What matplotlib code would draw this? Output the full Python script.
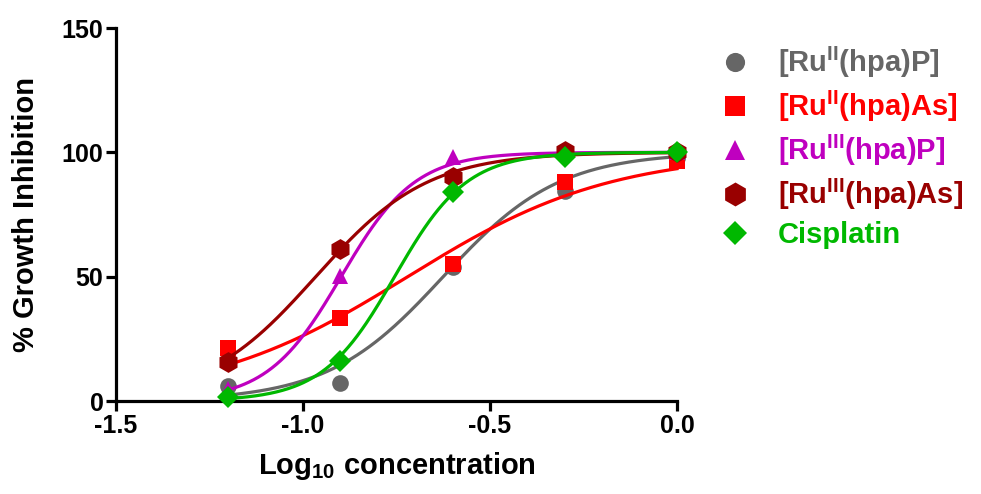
import matplotlib
matplotlib.use("Agg")
import matplotlib.pyplot as plt
import numpy as np

# log10 concentrations tested
log_conc = [-1.2, -0.9, -0.6, -0.3, 0.0]

# % growth inhibition
ru2_p = [6.0, 7.4, 53.7, 84.6, 97.6]
ru2_as = [21.5, 33.2, 55.0, 88.0, 96.6]
ru3_p = [4.7, 50.3, 98.0, 100.0, 100.0]
ru3_as = [15.7, 61.0, 90.0, 100.5, 100.0]
cisplatin = [1.7, 16.1, 84.2, 98.0, 100.3]

# sigmoidal fit parameters (log EC50, Hill slope) as estimated from the curves
fit_logec50 = [-0.625, -0.72, -0.898, -0.966, -0.755]
fit_hill = [2.8, 1.6, 4.4, 2.9, 4.5]

labels = [r"[Ru$^{\mathbf{II}}$(hpa)P]", r"[Ru$^{\mathbf{II}}$(hpa)As]",
          r"[Ru$^{\mathbf{III}}$(hpa)P]", r"[Ru$^{\mathbf{III}}$(hpa)As]", "Cisplatin"]
colors = ["#666666", "#FF0000", "#BF00BF", "#990000", "#00B800"]
markers = ["o", "s", "^", "h", "D"]
sizes = [12, 12, 12, 15, 11]

plt.rcParams["font.family"] = ["Liberation Sans", "DejaVu Sans"]
plt.rcParams["font.weight"] = "bold"
plt.rcParams["mathtext.fontset"] = "custom"
plt.rcParams["mathtext.rm"] = "Liberation Sans:bold"
plt.rcParams["mathtext.bf"] = "Liberation Sans:bold"

fig = plt.figure(figsize=(9.81, 4.94), dpi=100)
ax = fig.add_axes([116 / 981, 1 - 401 / 494, 561 / 981, 373 / 494])

series = [ru2_p, ru2_as, ru3_p, ru3_as, cisplatin]
xfit = np.linspace(log_conc[0], log_conc[-1], 300)
for i, values in enumerate(series):
    yfit = 100 / (1 + 10 ** ((fit_logec50[i] - xfit) * fit_hill[i]))
    ax.plot(xfit, yfit, color=colors[i], linewidth=2.3, clip_on=False, zorder=2 + i)
    ax.plot(log_conc, values, linestyle="none", marker=markers[i], markersize=sizes[i],
            color=colors[i], markeredgewidth=0, label=labels[i], clip_on=False, zorder=2 + i)

ax.set_xlim(-1.5, 0.0)
ax.set_ylim(0, 150)
ax.set_xticks([-1.5, -1.0, -0.5, 0.0])
ax.set_xticklabels(["-1.5", "-1.0", "-0.5", "0.0"])
ax.set_yticks([0, 50, 100, 150])

for side in ["top", "right"]:
    ax.spines[side].set_visible(False)
for side in ["left", "bottom"]:
    ax.spines[side].set_linewidth(2.3)
ax.tick_params(axis="both", width=2.3, length=7, labelsize=18, pad=2)

ax.set_xlabel(r"Log$_{\mathbf{10}}$ concentration", fontsize=21, fontweight="bold", labelpad=9)
ax.set_ylabel("% Growth Inhibition", fontsize=21, fontweight="bold", labelpad=16)

leg = ax.legend(loc="upper left", bbox_to_anchor=(1.03, 1.024), frameon=False,
                fontsize=21, handlelength=1.0, handletextpad=0.98, labelspacing=0.3,
                markerscale=1.15, labelcolor="markerfacecolor")
for t in leg.get_texts():
    t.set_fontweight("bold")

fig.savefig("out.png", dpi=100)
